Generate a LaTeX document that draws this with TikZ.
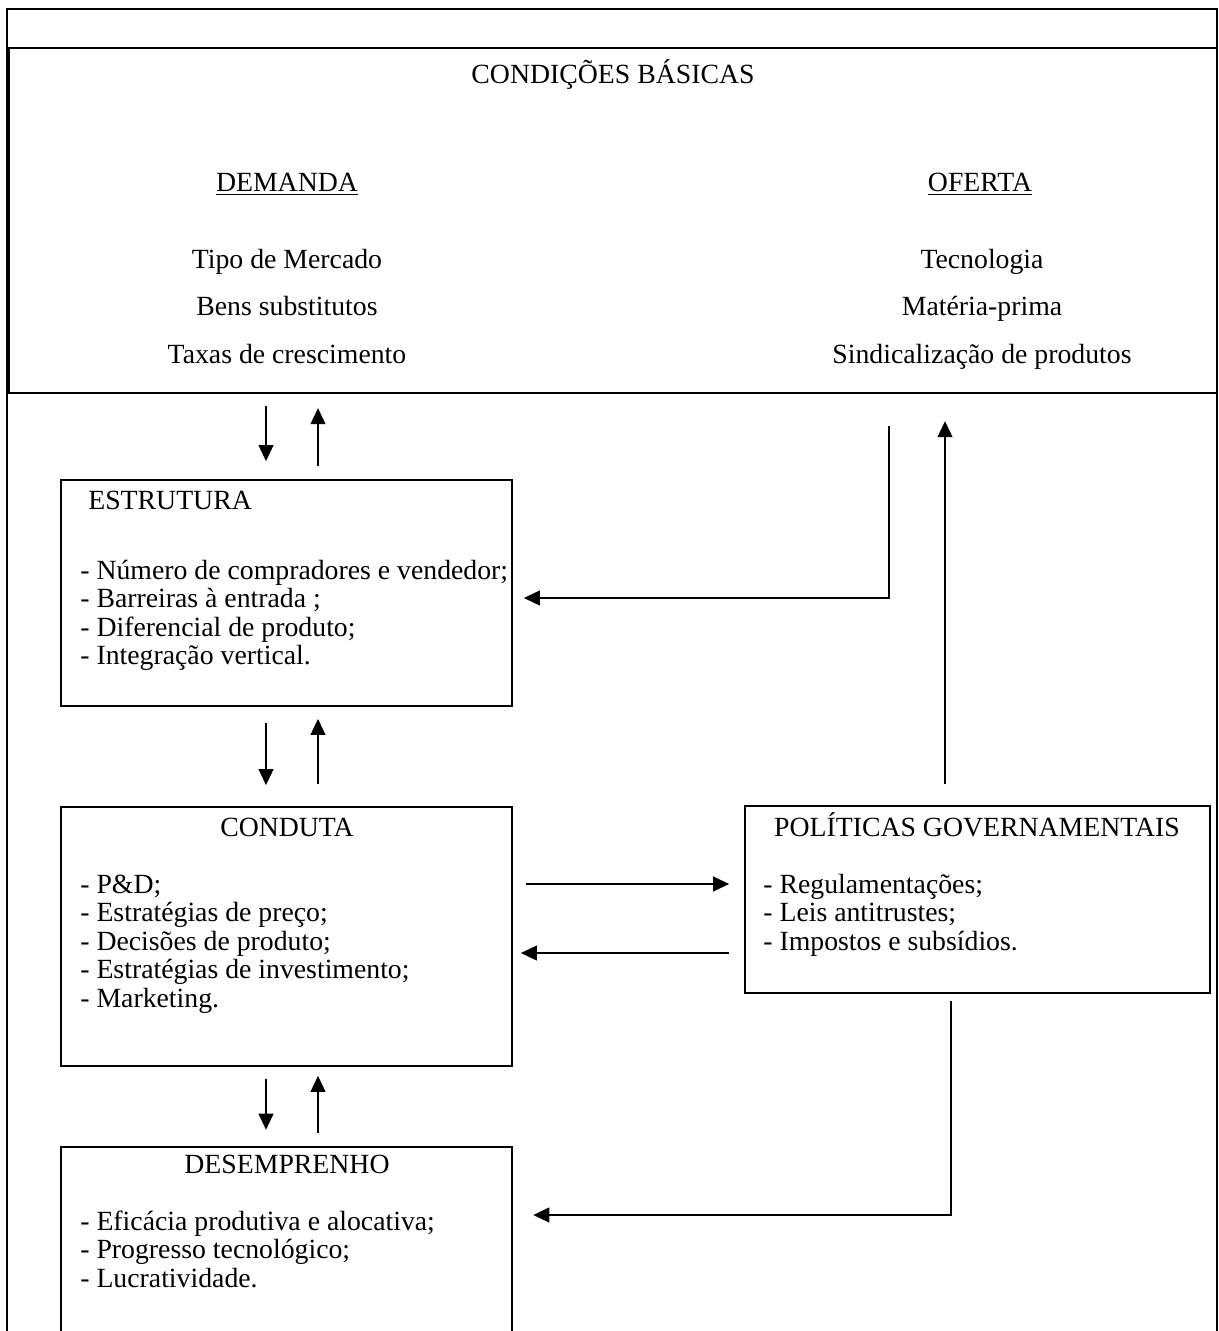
\documentclass[tikz,border=0pt]{standalone}
\usepackage{fontspec}
\setmainfont{Liberation Serif}
\usetikzlibrary{arrows.meta}
\tikzset{
  txt/.style={inner sep=0pt, font=\fontsize{15.8}{19}\selectfont, text height=0.7em, text depth=0.2em, yshift=-0.08cm},
  item/.style={txt, anchor=west},
}

\begin{document}
\begin{tikzpicture}[x=0.02cm, y=-0.02cm,
  frame/.style={line width=0.9pt},
  box/.style={draw, line width=1.1pt, inner sep=0pt},
  arr/.style={-{Triangle[length=3.2mm, width=3mm]}, line width=0.6pt}]
\useasboundingbox (0,0) rectangle (1219,1331);
% outer frame, open at the bottom
\draw[frame] (7,1331) -- (7,9) -- (1217,9) -- (1217,1331);
\draw[frame] (7,48) -- (1217,48);
% boxes
\node[box, line width=1.4pt, minimum width=24.16cm, minimum height=6.9cm] (cb) at (613,220.5) {};
\node[box, minimum width=9.02cm, minimum height=4.52cm] (estr) at (286.5,593) {};
\node[box, minimum width=9.02cm, minimum height=5.18cm] (cond) at (286.5,936.5) {};
\node[box, minimum width=9.3cm, minimum height=3.74cm] (pol) at (977.5,899.5) {};
\node[inner sep=0pt, minimum width=9.02cm, minimum height=3.68cm] (des) at (286.5,1239) {};
\draw[line width=1.1pt] (des.south west) -- (des.north west) -- (des.north east) -- (des.south east);
% condicoes basicas
\node[txt] (cbt) at (613,75) {CONDIÇÕES BÁSICAS};
\node[txt] (dem) at (287,183) {\underline{DEMANDA}};
\node[txt] (ofe) at (980,183) {\underline{OFERTA}};
\node[txt] (d1) at (287,260) {Tipo de Mercado};
\node[txt] (d2) at (287,307) {Bens substitutos};
\node[txt] (d3) at (287,355) {Taxas de crescimento};
\node[txt] (o1) at (982,260) {Tecnologia};
\node[txt] (o2) at (982,307) {Matéria-prima};
\node[txt] (o3) at (982,355) {Sindicalização de produtos};
% estrutura
\node[item] (estrt) at (88,501) {ESTRUTURA};
\foreach \t [count=\i] in {{- Número de compradores e vendedor;}, {- Barreiras à entrada ;}, {- Diferencial de produto;}, {- Integração vertical.}}
  \node[item] (e\i) at (80,{571+(\i-1)*28.4}) {\t};
% conduta
\node[txt] (condt) at (287,828) {CONDUTA};
\foreach \t [count=\i] in {{- P\&D;}, {- Estratégias de preço;}, {- Decisões de produto;}, {- Estratégias de investimento;}, {- Marketing.}}
  \node[item] (c\i) at (80,{885+(\i-1)*28.4}) {\t};
% politicas
\node[txt] (polt) at (977,828) {POLÍTICAS GOVERNAMENTAIS};
\foreach \t [count=\i] in {{- Regulamentações;}, {- Leis antitrustes;}, {- Impostos e subsídios.}}
  \node[item] (p\i) at (763,{885+(\i-1)*28.4}) {\t};
% desempenho
\node[txt] (dest) at (287,1165) {DESEMPRENHO};
\foreach \t [count=\i] in {{- Eficácia produtiva e alocativa;}, {- Progresso tecnológico;}, {- Lucratividade.}}
  \node[item] (s\i) at (80,{1222+(\i-1)*28.4}) {\t};
% arrow columns and rows
\coordinate (xdn) at (266,0);
\coordinate (xup) at (318,0);
\coordinate (xof) at (889,0);
\coordinate (xpu) at (945,0);
\coordinate (xpd) at (951,0);
\coordinate (yof) at (0,598);
\coordinate (yr) at (0,884);
\coordinate (yl) at (0,953);
\coordinate (yds) at (0,1215);
% vertical pairs
\draw[arr, shorten <=2.4mm, shorten >=3.6mm] (cb.south -| xdn) -- (estr.north -| xdn);
\draw[arr, shorten <=2.6mm, shorten >=2.8mm] (estr.north -| xup) -- (cb.south -| xup);
\draw[arr, shorten <=3.2mm, shorten >=4.2mm] (estr.south -| xdn) -- (cond.north -| xdn);
\draw[arr, shorten <=4.4mm, shorten >=2.4mm] (cond.north -| xup) -- (estr.south -| xup);
\draw[arr, shorten <=2.4mm, shorten >=3.4mm] (cond.south -| xdn) -- (des.north -| xdn);
\draw[arr, shorten <=2.8mm, shorten >=1.8mm] (des.north -| xup) -- (cond.south -| xup);
% oferta and politicas
\draw[arr, shorten <=6.4mm, shorten >=2.2mm] (cb.south -| xof) |- (estr.east |- yof);
\draw[arr, shorten <=4.2mm, shorten >=5.4mm] (pol.north -| xpu) -- (cb.south -| xpu);
\draw[arr, shorten <=2.6mm, shorten >=3mm] (cond.east |- yr) -- (pol.west |- yr);
\draw[arr, shorten <=3mm, shorten >=1.6mm] (pol.west |- yl) -- (cond.east |- yl);
\draw[arr, shorten <=1.4mm, shorten >=4.2mm] (pol.south -| xpd) |- (des.east |- yds);
\end{tikzpicture}
\end{document}
